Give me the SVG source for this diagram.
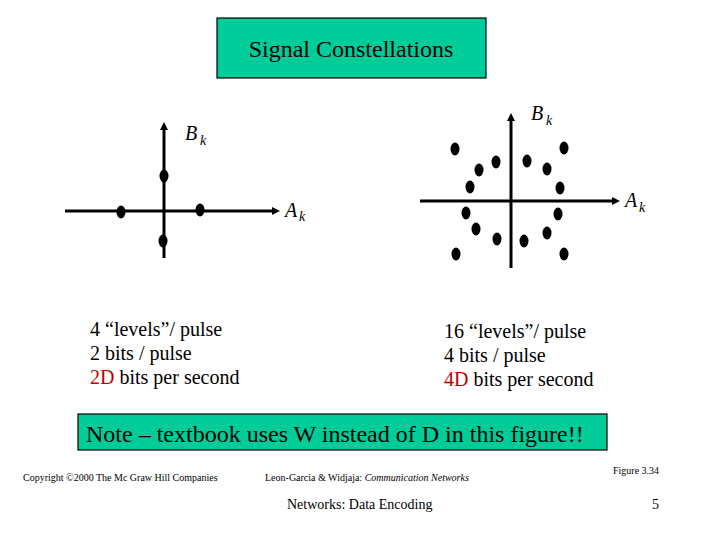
<svg xmlns="http://www.w3.org/2000/svg" width="720" height="540" viewBox="0 0 720 540" font-family="'Liberation Serif', 'DejaVu Serif', serif">
<defs>
<style>
.ax{stroke:#000;stroke-width:3;fill:none}
.box{fill:#00CC99;stroke:#000;stroke-width:1.2}
.dot{fill:#000}
.red{fill:#C00000}
</style>
<marker id="ah" markerWidth="8" markerHeight="8" refX="4" refY="4" orient="auto" markerUnits="userSpaceOnUse">
<path d="M0,0 L8,4 L0,8 z" fill="#000"/>
</marker>
</defs>
<rect width="720" height="540" fill="#fff"/>
<g id="title">
<rect class="box" x="217" y="18" width="269" height="60"/>
<text x="351" y="57" font-size="24" text-anchor="middle">Signal Constellations</text>
</g>
<g id="connectors">
<line class="ax" x1="65" y1="211" x2="276" y2="211" marker-end="url(#ah)"/>
<line class="ax" x1="164" y1="258" x2="164" y2="126" marker-end="url(#ah)"/>
<line class="ax" x1="420" y1="201" x2="616" y2="201" marker-end="url(#ah)"/>
<line class="ax" x1="511" y1="268" x2="511" y2="117" marker-end="url(#ah)"/>
</g>
<g id="left-constellation">
<ellipse class="dot" cx="164" cy="176" rx="4.5" ry="6.5"/>
<ellipse class="dot" cx="121" cy="212" rx="4.5" ry="6.5"/>
<ellipse class="dot" cx="200" cy="210" rx="4.5" ry="6.5"/>
<ellipse class="dot" cx="163" cy="241" rx="4.5" ry="6.5"/>
<text x="185" y="140" font-size="20" font-style="italic">B</text>
<text x="200" y="145" font-size="14" font-style="italic">k</text>
<text x="285" y="217" font-size="20" font-style="italic">A</text>
<text x="299" y="221" font-size="14" font-style="italic">k</text>
</g>
<g id="right-constellation">
<ellipse class="dot" cx="455" cy="149" rx="4.5" ry="6.5"/>
<ellipse class="dot" cx="564" cy="148" rx="4.5" ry="6.5"/>
<ellipse class="dot" cx="479" cy="170" rx="4.5" ry="6.5"/>
<ellipse class="dot" cx="496" cy="162" rx="4.5" ry="6.5"/>
<ellipse class="dot" cx="527" cy="161" rx="4.5" ry="6.5"/>
<ellipse class="dot" cx="547" cy="169" rx="4.5" ry="6.5"/>
<ellipse class="dot" cx="470" cy="187" rx="4.5" ry="6.5"/>
<ellipse class="dot" cx="560" cy="188" rx="4.5" ry="6.5"/>
<ellipse class="dot" cx="466" cy="213" rx="4.5" ry="6.5"/>
<ellipse class="dot" cx="558" cy="214" rx="4.5" ry="6.5"/>
<ellipse class="dot" cx="476" cy="229" rx="4.5" ry="6.5"/>
<ellipse class="dot" cx="497" cy="239" rx="4.5" ry="6.5"/>
<ellipse class="dot" cx="524" cy="241" rx="4.5" ry="6.5"/>
<ellipse class="dot" cx="547" cy="233" rx="4.5" ry="6.5"/>
<ellipse class="dot" cx="456" cy="254" rx="4.5" ry="6.5"/>
<ellipse class="dot" cx="564" cy="254" rx="4.5" ry="6.5"/>
<text x="531" y="120" font-size="20" font-style="italic">B</text>
<text x="546" y="125" font-size="14" font-style="italic">k</text>
<text x="625" y="207" font-size="20" font-style="italic">A</text>
<text x="639" y="212" font-size="14" font-style="italic">k</text>
</g>
<g id="left-text" font-size="20">
<text x="90" y="336">4 “levels”/ pulse</text>
<text x="90" y="360">2 bits / pulse</text>
<text x="90" y="384"><tspan class="red">2D</tspan> bits per second</text>
</g>
<g id="right-text" font-size="20">
<text x="444" y="338">16 “levels”/ pulse</text>
<text x="444" y="362">4 bits / pulse</text>
<text x="444" y="386"><tspan class="red">4D</tspan> bits per second</text>
</g>
<g id="note">
<rect class="box" x="78" y="414" width="529" height="36"/>
<text x="86" y="442" font-size="24">Note – textbook uses W instead of D in this figure!!</text>
</g>
<g id="footer">
<text x="23" y="481" font-size="10">Copyright ©2000 The Mc Graw Hill Companies</text>
<text x="265" y="481" font-size="10">Leon-Garcia &amp; Widjaja:  <tspan font-style="italic">Communication Networks</tspan></text>
<text x="613" y="474" font-size="10">Figure 3.34</text>
<text x="287" y="509" font-size="14">Networks: Data Encoding</text>
<text x="652" y="509" font-size="14">5</text>
</g>
</svg>
